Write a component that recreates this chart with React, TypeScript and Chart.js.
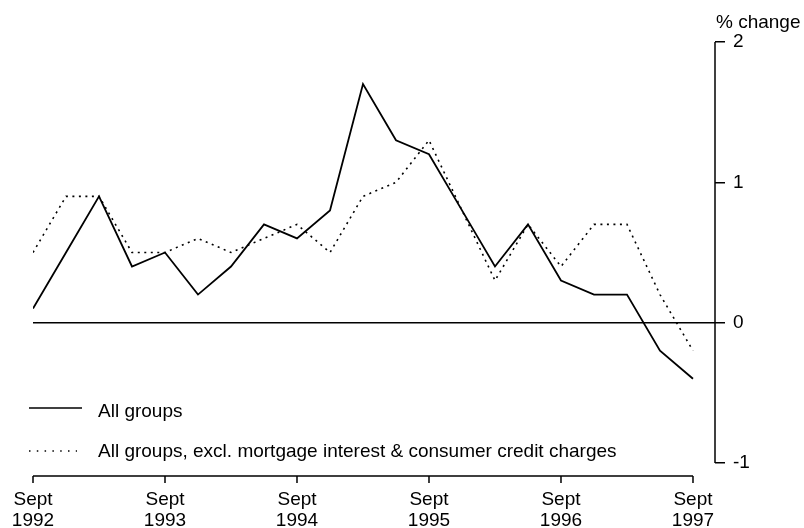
import React, { useEffect, useRef } from 'react';
import { Chart, registerables } from 'chart.js';

Chart.register(...registerables);

// Quarterly, Sept 1992 – Sept 1997
const quarters = [
  'Sep 1992', 'Dec 1992', 'Mar 1993', 'Jun 1993', 'Sep 1993', 'Dec 1993', 'Mar 1994',
  'Jun 1994', 'Sep 1994', 'Dec 1994', 'Mar 1995', 'Jun 1995', 'Sep 1995', 'Dec 1995',
  'Mar 1996', 'Jun 1996', 'Sep 1996', 'Dec 1996', 'Mar 1997', 'Jun 1997', 'Sep 1997',
];
const allGroups = [0.1, 0.5, 0.9, 0.4, 0.5, 0.2, 0.4, 0.7, 0.6, 0.8, 1.7, 1.3, 1.2, 0.8, 0.4, 0.7, 0.3, 0.2, 0.2, -0.2, -0.4];
const exclMortgage = [0.5, 0.9, 0.9, 0.5, 0.5, 0.6, 0.5, 0.6, 0.7, 0.5, 0.9, 1.0, 1.3, 0.8, 0.3, 0.7, 0.4, 0.7, 0.7, 0.2, -0.2];
const seriesNames = ['All groups', 'All groups, excl. mortgage interest & consumer credit charges'];
const xTickIndex = [0, 4, 8, 12, 16, 20];
const xTickLabels = [
  ['Sept', '1992'], ['Sept', '1993'], ['Sept', '1994'],
  ['Sept', '1995'], ['Sept', '1996'], ['Sept', '1997'],
];
const yTickValues = [-1, 0, 1, 2];
const yAxisTitle = '% change';

const FONT = "'Liberation Sans', Arial, Helvetica, sans-serif";
const DOTS = [2, 4.5];

const decorPlugin = {
  id: 'decor',
  afterDatasetsDraw(chart: any) {
    const { ctx, chartArea, scales } = chart;
    const x = scales.x;
    const y = scales.y;
    ctx.save();
    ctx.strokeStyle = '#000';
    ctx.fillStyle = '#000';
    // y axis line (from top tick to bottom tick)
    ctx.lineWidth = 1.5;
    ctx.beginPath();
    ctx.moveTo(chartArea.right, y.getPixelForValue(yTickValues[yTickValues.length - 1]));
    ctx.lineTo(chartArea.right, y.getPixelForValue(yTickValues[0]));
    ctx.stroke();
    // x axis line with downward ticks
    const xb = chartArea.bottom;
    ctx.beginPath();
    ctx.moveTo(x.getPixelForValue(xTickIndex[0]), xb);
    ctx.lineTo(x.getPixelForValue(xTickIndex[xTickIndex.length - 1]), xb);
    xTickIndex.forEach((v) => {
      const px = x.getPixelForValue(v);
      ctx.moveTo(px, xb);
      ctx.lineTo(px, xb + 7);
    });
    ctx.stroke();

    // legend
    ctx.font = `19px ${FONT}`;
    ctx.textBaseline = 'middle';
    ctx.textAlign = 'left';
    const lx = chartArea.left - 4;
    ctx.lineWidth = 1.5;
    ctx.beginPath();
    ctx.moveTo(lx, chartArea.bottom - 68);
    ctx.lineTo(lx + 53, chartArea.bottom - 68);
    ctx.stroke();
    ctx.setLineDash([1.5, 6.3]);
    ctx.beginPath();
    ctx.moveTo(lx, chartArea.bottom - 25);
    ctx.lineTo(lx + 48, chartArea.bottom - 25);
    ctx.stroke();
    ctx.setLineDash([]);
    ctx.fillText(seriesNames[0], lx + 69, chartArea.bottom - 64);
    ctx.fillText(seriesNames[1], lx + 69, chartArea.bottom - 24);

    // y axis title
    ctx.textBaseline = 'alphabetic';
    ctx.fillText(yAxisTitle, chartArea.right + 1, chartArea.top - 14);
    ctx.restore();
  },
};

export default function App() {
  const ref = useRef<HTMLCanvasElement>(null);

  useEffect(() => {
    if (!ref.current) return;
    const chart = new Chart(ref.current, {
      type: 'line',
      data: {
        labels: quarters,
        datasets: [
          {
            label: seriesNames[0],
            data: allGroups.map((v, i) => ({ x: i, y: v })),
            borderColor: '#000',
            borderWidth: 1.8,
            pointRadius: 0,
            tension: 0,
            fill: false,
          },
          {
            label: seriesNames[1],
            data: exclMortgage.map((v, i) => ({ x: i, y: v })),
            borderColor: '#000',
            borderWidth: 1.6,
            borderDash: DOTS,
            pointRadius: 0,
            tension: 0,
            fill: false,
          },
        ],
      },
      options: {
        responsive: false,
        animation: false,
        devicePixelRatio: 1,
        layout: { padding: { left: 33, top: 42, right: 0, bottom: 0 } },
        plugins: { legend: { display: false }, tooltip: { enabled: false }, title: { display: false } },
        scales: {
          x: {
            type: 'linear',
            position: 'bottom',
            min: 0,
            max: 20.667,
            grid: { display: false, drawTicks: false },
            border: { display: false },
            afterBuildTicks: (s: any) => {
              s.ticks = xTickIndex.map((v) => ({ value: v }));
            },
            afterFit: (s: any) => {
              s.height = 52;
              s.paddingLeft = 0;
              s.paddingRight = 0;
            },
            ticks: {
              autoSkip: false,
              maxRotation: 0,
              padding: 13,
              color: '#000',
              font: { family: FONT, size: 19, lineHeight: 1.1 },
              callback: (v: any) => {
                const i = xTickIndex.indexOf(Number(v));
                return i >= 0 ? xTickLabels[i] : '';
              },
            },
          },
          y: {
            type: 'linear',
            position: 'right',
            min: -1.093,
            max: 2,
            border: { display: false },
            grid: {
              drawOnChartArea: true,
              drawTicks: true,
              tickLength: 10,
              tickColor: '#000',
              lineWidth: 1.5,
              color: (c: any) => (c.tick && c.tick.value === 0 ? '#000' : 'rgba(0,0,0,0)'),
            },
            afterBuildTicks: (s: any) => {
              s.ticks = yTickValues.map((v) => ({ value: v }));
            },
            afterFit: (s: any) => {
              s.width = 89;
            },
            ticks: {
              padding: 8,
              color: '#000',
              font: { family: FONT, size: 19 },
              callback: (v: any) => String(v),
            },
          },
        },
      },
      plugins: [decorPlugin],
    });
    return () => chart.destroy();
  }, []);

  return (
    <div style={{ position: 'fixed', left: 0, top: 0, width: 804, height: 528, background: '#fff' }}>
      <canvas ref={ref} width={804} height={528} style={{ display: 'block' }} />
    </div>
  );
}
